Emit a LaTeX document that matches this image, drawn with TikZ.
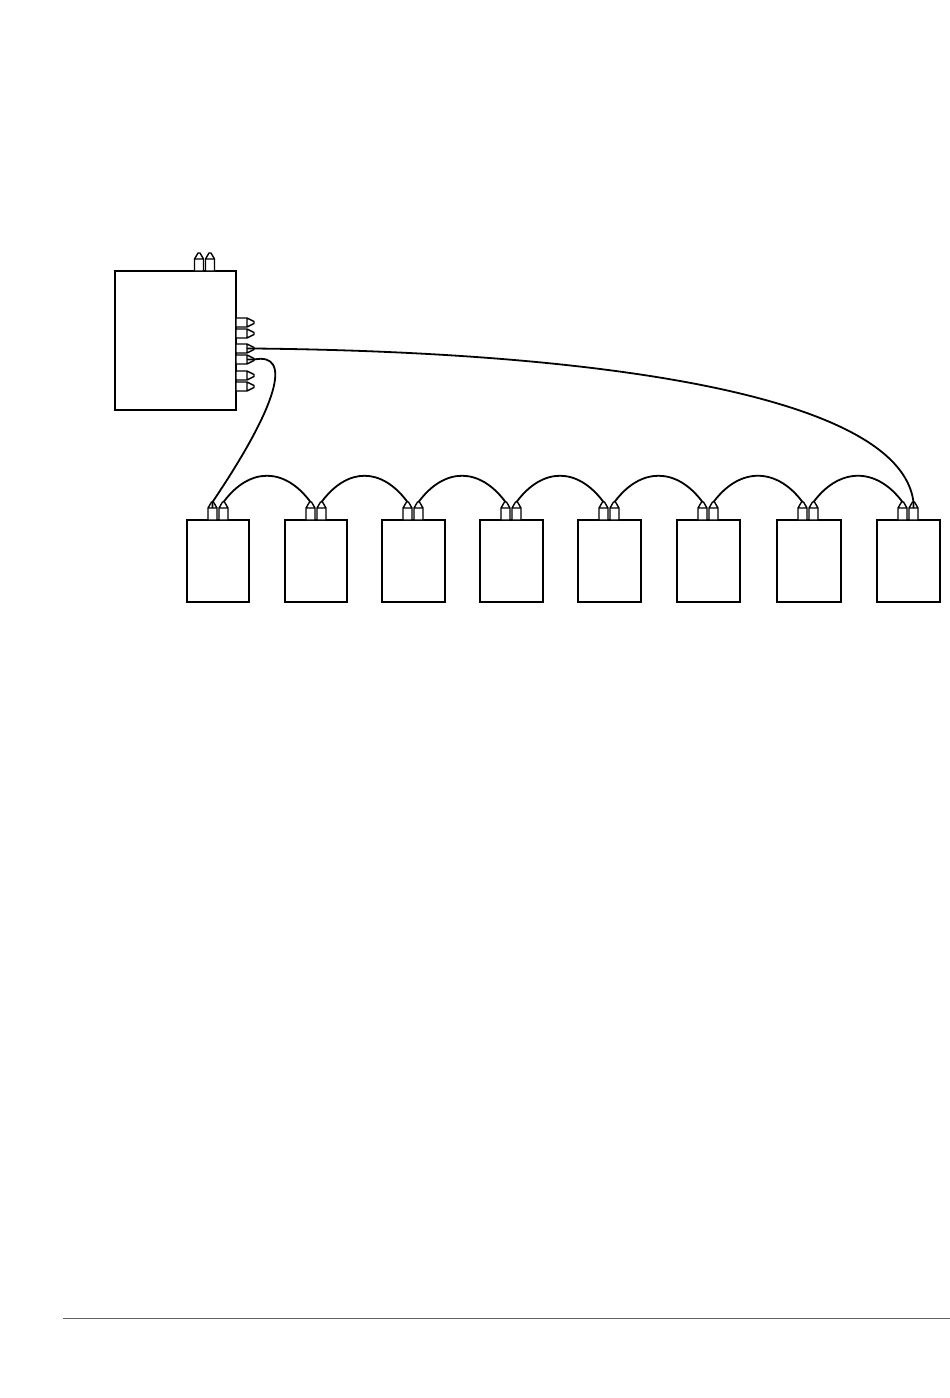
\documentclass[tikz,border=0pt]{standalone}
\usetikzlibrary{calc}
\tikzset{
  x=1pt,y=-1pt,
  boxn/.style={draw,line width=2pt,inner sep=0pt,outer sep=0pt,anchor=north west,rectangle},
  portln/.style={draw,line width=1.4pt,fill=white,line join=round},
  cable/.style={draw,line width=1.8pt},
  rule/.style={draw,line width=1pt,color=black!62}
}
% top port: left x, base y, name of tip (name+s = shoulder point inside the port)
\newcommand{\portT}[3]{%
  \draw[portln] (#1,#2) -- (#1,#2-12) -- (#1+3.5,#2-18) -- (#1+5.5,#2-18) -- (#1+9,#2-12) -- (#1+9,#2) -- cycle (#1,#2-12) -- (#1+9,#2-12);
  \coordinate (#3) at (#1+4.5,#2-18);
  \coordinate (#3s) at (#1+4.5,#2-12);}
% right port: base x, top y, name of tip (name+s = shoulder point inside the port)
\newcommand{\portR}[3]{%
  \draw[portln] (#1,#2) -- (#1+11,#2) -- (#1+18,#2+3.5) -- (#1+18,#2+5.5) -- (#1+11,#2+9) -- (#1,#2+9) -- cycle (#1+11,#2) -- (#1+11,#2+9);
  \coordinate (#3) at (#1+18,#2+4.5);
  \coordinate (#3s) at (#1+11,#2+4.5);}
\begin{document}
\begin{tikzpicture}
\useasboundingbox (0,0) rectangle (950,1398);
\node[boxn,minimum width=121pt,minimum height=139pt] (main) at (115,271) {};
\portT{194.5}{271}{mt1}\portT{205.5}{271}{mt2}
\portR{236}{318}{mr1}\portR{236}{329}{mr2}\portR{236}{344}{mr3}\portR{236}{355}{mr4}\portR{236}{371}{mr5}\portR{236}{382}{mr6}
\foreach \n/\xa/\w in {1/187/62,2/285/62,3/382/63,4/480/63,5/578/63,6/677/63,7/777/64,8/877/63}{
  \node[boxn,minimum width=\w pt,minimum height=82pt] (b\n) at (\xa,520) {};
  \portT{\xa+21}{520}{p\n a}\portT{\xa+32}{520}{p\n b}
}
\draw[cable] (mr3s) -- (mr3) .. controls (600,352) and (900,395) .. (p8b) -- (p8bs);
\draw[cable] (mr4s) -- (mr4) .. controls (293,352) and (278,405) .. (p1a) -- (p1as);
\foreach \i/\j in {1/2,2/3,3/4,4/5,5/6,6/7,7/8}{
  \draw[cable] (p\i b) .. controls +(26,-35) and ($(p\j a)+(-26,-35)$) .. (p\j a);
}
\coordinate (ruleL) at (63,1318.5);
\coordinate (ruleR) at (950,1318.5);
\draw[rule] (ruleL) -- (ruleR);
\end{tikzpicture}
\end{document}
